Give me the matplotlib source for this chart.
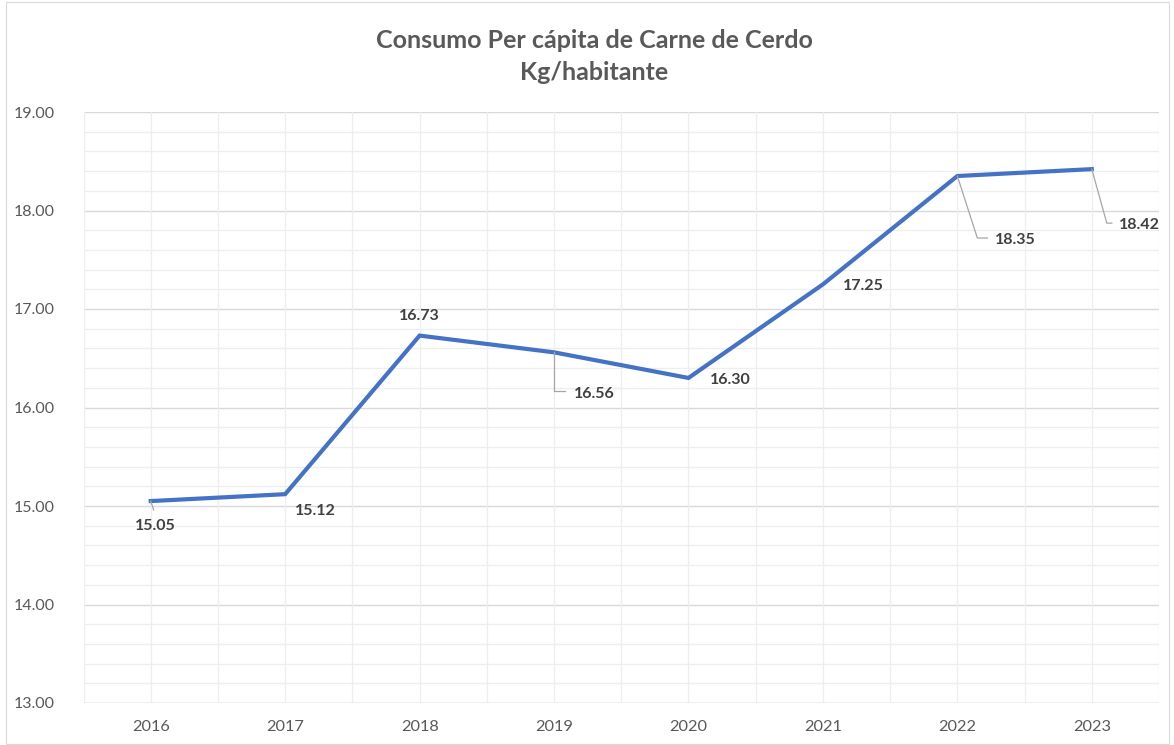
import matplotlib
matplotlib.use("Agg")
import matplotlib.pyplot as plt
from matplotlib.transforms import IdentityTransform
from matplotlib.lines import Line2D
from matplotlib.patches import Rectangle
import numpy as np

years = ["2016", "2017", "2018", "2019", "2020", "2021", "2022", "2023"]
values = [15.05, 15.12, 16.73, 16.56, 16.30, 17.25, 18.35, 18.42]
title_lines = ["Consumo Per cápita de Carne de Cerdo", "Kg/habitante"]
y_ticks = [13, 14, 15, 16, 17, 18, 19]

# label offsets in pixels (dx right, dy down) and optional leader lines
label_offsets = [(5, 25), (30, 17), (0, -20), (40, 42), (42, 2), (40, 2), (58, 64), (48, 56)]
leaders = {0: [(0, 0), (3, 9)],
           3: [(0, 0), (0, 39), (11, 39)],
           6: [(0, 0), (20, 62), (30, 62)],
           7: [(0, 0), (15, 54), (20, 54)]}

W, H = 1174, 745
fig = plt.figure(figsize=(W / 100, H / 100), dpi=100)
fig.patch.set_facecolor("white")
ax = fig.add_axes([83.5 / W, (H - 703) / H, (1159 - 83.5) / W, (703 - 112) / H])

FONT = "Lato"
x = np.arange(len(years))
ax.set_xlim(-0.5, len(years) - 0.5)
ax.set_ylim(13, 19)

# gridlines
for v in np.arange(13, 19.001, 0.2):
    major = abs(v - round(v)) < 1e-6
    ax.axhline(v, color="#d9d9d9" if major else "#eeeeee", lw=1.0 if major else 0.9, zorder=0)
for v in np.arange(-0.5, len(years), 0.5):
    ax.axvline(v, color="#eeeeee", lw=0.9, zorder=0)

for s in ax.spines.values():
    s.set_visible(False)
ax.axhline(13, color="#d0d0d0", lw=1.0, zorder=1)

ax.plot(x, values, color="#4472C4", lw=3.0, solid_joinstyle="miter", zorder=3)

ax.set_xticks(x)
ax.set_xticklabels(years, fontsize=11.8, color="#595959", family=FONT)
ax.set_yticks(y_ticks)
ax.set_yticklabels([f"{v:.2f}" for v in y_ticks], fontsize=11.5, color="#595959", family=FONT)
ax.tick_params(axis="both", length=0)
ax.tick_params(axis="y", pad=21)
ax.tick_params(axis="x", pad=12)

fig.canvas.draw()
for i, (xi, yi) in enumerate(zip(x, values)):
    dx, dy = label_offsets[i]
    ax.annotate(f"{yi:.2f}", xy=(xi, yi), xytext=(dx, -dy), textcoords="offset pixels",
                ha="center", va="center", fontsize=11.5, fontweight="bold",
                color="#404040", family=FONT, zorder=5)
    if i in leaders:
        px, py = ax.transData.transform((xi, yi))
        pts = leaders[i]
        xs = [px + p[0] for p in pts]
        ys = [py - p[1] for p in pts]
        ln = Line2D(xs, ys, transform=IdentityTransform(), color="#a6a6a6", lw=0.9, zorder=4)
        ln.set_clip_on(False)
        fig.add_artist(ln)

fig.text(594 / W, 1 - 40 / H, title_lines[0], ha="center", va="center", fontsize=18,
         fontweight="bold", color="#595959", family=FONT)
fig.text(594 / W, 1 - 73 / H, title_lines[1], ha="center", va="center", fontsize=18,
         fontweight="bold", color="#595959", family=FONT)

fig.add_artist(Rectangle((5.5 / W, 1.5 / H), (1169 - 5.5) / W, (743 - 1.5) / H,
                         transform=fig.transFigure, fill=False, edgecolor="#d9d9d9", lw=0.8))

fig.savefig("out.png", dpi=100)
